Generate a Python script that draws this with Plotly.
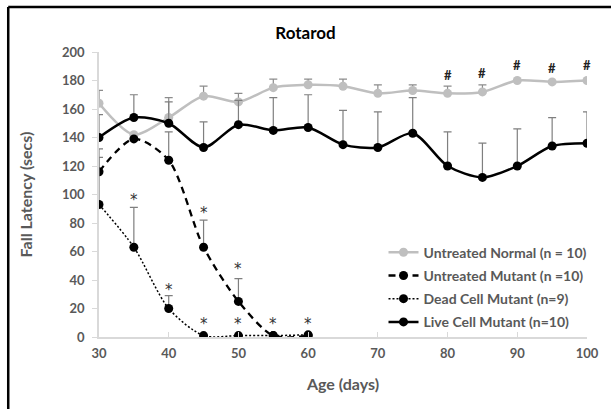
import plotly.graph_objects as go

days = [30, 35, 40, 45, 50, 55, 60, 65, 70, 75, 80, 85, 90, 95, 100]

normal = [164, 142, 154, 169, 165, 175, 177, 176, 171, 173, 171, 172, 180, 179, 180]
normal_err = [9, 0, 14, 7, 6, 6, 4, 5, 6, 4, 5, 5, 0, 0, 0]

live = [140, 154, 150, 133, 149, 145, 147, 135, 133, 143, 120, 112, 120, 134, 136]
live_err = [16, 16, 15, 18, 17, 23, 23, 24, 25, 25, 24, 24, 26, 20, 22]

mut_days = [30, 35, 40, 45, 50, 55, 60]
mutant = [116, 139, 124, 63, 25, 1, 1]
mutant_err = [16, 0, 20, 19, 16, 0, 0]

dead_days = [30, 35, 40, 45, 50, 55, 60]
dead = [93, 63, 20, 1, 1, 1, 1.5]
dead_err = [33, 28, 9, 0, 0, 0, 0]

star_x = [35, 40, 45, 45, 50, 50, 55, 60]
star_y = [96, 33, 87, 9, 48, 9, 9, 9]
hash_x = [80, 85, 90, 95, 100]
hash_y = [184, 185, 191, 189, 191]

GRAY = "#bfbfbf"
TXT = "#595959"
FONT = "Lato"

fig = go.Figure()

def err(arr, color):
    return dict(type="data", array=arr, arrayminus=[0] * len(arr), symmetric=False,
                color=color, thickness=1.2, width=4)

fig.add_trace(go.Scatter(
    x=days, y=normal, name="Untreated Normal (n = 10)", mode="lines+markers", legendgroup="a",
    line=dict(color=GRAY, width=2.5, shape="spline", smoothing=0.8),
    marker=dict(color=GRAY, size=9), error_y=err(normal_err, "#8c8c8c")))
fig.add_trace(go.Scatter(
    x=mut_days, y=mutant, name="Untreated Mutant (n =10)", mode="lines+markers", legendgroup="b",
    line=dict(color="black", width=2.3, dash="7px,5px", shape="spline", smoothing=0.8),
    marker=dict(color="black", size=9), error_y=err(mutant_err, "#7f7f7f")))
fig.add_trace(go.Scatter(
    x=dead_days, y=dead, name="Dead Cell Mutant (n=9)", mode="lines+markers", legendgroup="c",
    line=dict(color="black", width=1.5, dash="2px,2px", shape="spline", smoothing=0.8),
    marker=dict(color="black", size=9), error_y=err(dead_err, "#7f7f7f")))
fig.add_trace(go.Scatter(
    x=days, y=live, name="Live Cell Mutant (n=10)", mode="lines+markers", legendgroup="d",
    line=dict(color="black", width=2.5, shape="spline", smoothing=0.8),
    marker=dict(color="black", size=9), error_y=err(live_err, "#7f7f7f")))

for x, y in zip(star_x, star_y):
    fig.add_annotation(x=x, y=y, text="*", showarrow=False,
                       font=dict(family="DejaVu Sans", size=15, color="#333333"))
for x, y in zip(hash_x, hash_y):
    fig.add_annotation(x=x, y=y, text="#", showarrow=False,
                       font=dict(family=FONT, size=13, color="#222", weight="bold"))

# outer frame (top and left edges visible)
fig.add_shape(type="line", xref="paper", yref="paper", x0=-0.186, x1=1.2, y0=1.158, y1=1.158,
              line=dict(color="black", width=2.5))
fig.add_shape(type="line", xref="paper", yref="paper", x0=-0.186, x1=-0.186, y0=1.158, y1=-0.4,
              line=dict(color="black", width=2.5))

fig.update_layout(
    width=611, height=409,
    margin=dict(l=99, r=21, t=52, b=72),
    paper_bgcolor="white", plot_bgcolor="white",
    font=dict(family=FONT, color=TXT, size=13),
    title=dict(text="Rotarod", x=0.5, xanchor="center", y=0.918, yanchor="middle",
               font=dict(family=FONT, size=17, color="black", weight="bold")),
    showlegend=True,
    legend=dict(x=0.583, y=0.352, xanchor="left", yanchor="top", bgcolor="rgba(0,0,0,0)",
                font=dict(family=FONT, size=14, color=TXT, weight="bold"),
                itemwidth=30, traceorder="grouped", tracegroupgap=2),
    xaxis=dict(range=[30, 100], tickvals=[30, 40, 50, 60, 70, 80, 90, 100],
               showgrid=False, zeroline=False, showline=True, linecolor="#d9d9d9", linewidth=1.5,
               ticks="inside", ticklen=5, tickcolor="#d9d9d9", ticklabelstandoff=4,
               tickfont=dict(family=FONT, size=13, color=TXT, weight="bold"),
               title=dict(text="Age (days)", standoff=18,
                          font=dict(family=FONT, size=16, color=TXT, weight="bold"))),
    yaxis=dict(range=[0, 200], tickvals=[0, 20, 40, 60, 80, 100, 120, 140, 160, 180, 200],
               showgrid=False, zeroline=False, showline=True, linecolor="#d9d9d9", linewidth=1.5,
               ticks="outside", ticklen=5, tickcolor="#d9d9d9", ticklabelstandoff=5,
               tickfont=dict(family=FONT, size=13, color=TXT, weight="bold"),
               title=dict(text="Fall Latency (secs)", standoff=25,
                          font=dict(family=FONT, size=16, color=TXT, weight="bold"))),
)

fig.write_html("out.html", config={"displayModeBar": False},
               post_script="document.body.style.margin='0';document.body.style.overflow='hidden';")
